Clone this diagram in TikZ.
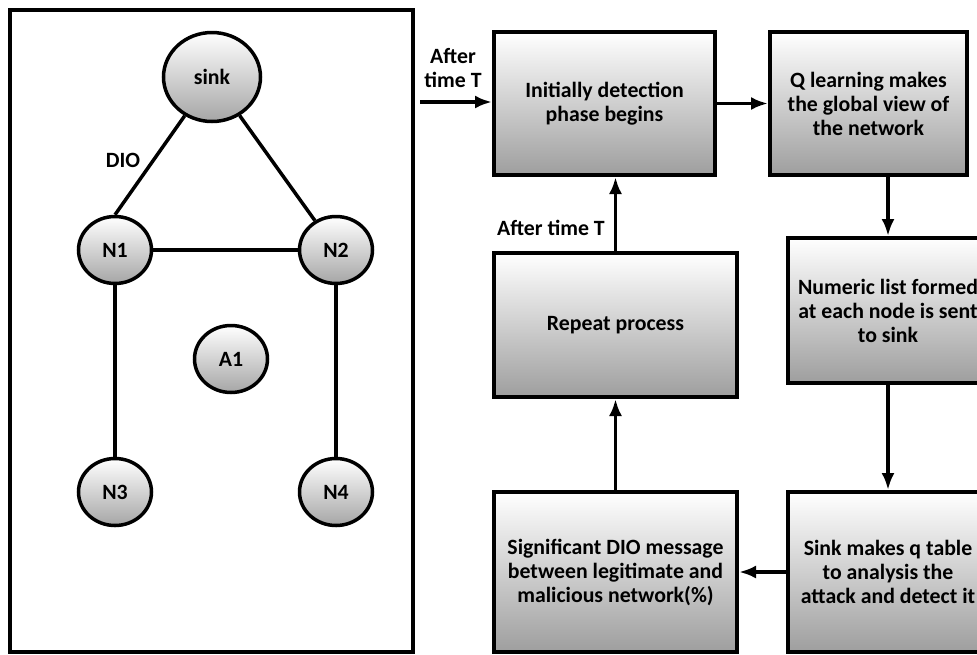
\documentclass[tikz,border=0pt]{standalone}
\usepackage{fontspec}
\setmainfont{Carlito}
\usetikzlibrary{shapes.geometric,arrows.meta}
\begin{document}
\begin{tikzpicture}[
    x=1pt, y=-1pt,
    every node/.style={font=\fontsize{21.8}{24}\selectfont\bfseries},
    % Network styles
    net-node/.style={ellipse, draw=black, line width=3.5pt, top color=white, bottom color=black!35, inner sep=0pt, minimum width=73pt, minimum height=67pt},
    link/.style={line width=3.5pt},
    % Flow chart styles
    proc-box/.style={rectangle, draw=black, line width=4pt, top color=white, bottom color=black!38, align=center, inner sep=4pt},
    flow/.style={-{Latex[length=17pt,width=13pt]}, line width=3.5pt},
]

\useasboundingbox (0,0) rectangle (977,654);
\clip (0,0) rectangle (977,654);

% === NETWORK (left frame) ===
\node[draw=black, line width=4pt, minimum width=403pt, minimum height=642pt] (frame) at (211.5, 331) {};

\node[net-node, minimum width=97pt, minimum height=89pt] (sink) at (212, 77) {sink};
\node[net-node] (n1) at (115, 250) {N1};
\node[net-node] (n2) at (336, 250) {N2};
\node[net-node] (a1) at (231, 359) {A1};
\node[net-node] (n3) at (115, 492) {N3};
\node[net-node] (n4) at (336, 492) {N4};

\draw[link] (sink) -- (n1.north) node[pos=0.45, left=8pt] (dio) {DIO};
\draw[link] (sink) -- (n2);
\draw[link] (n1) -- (n2);
\draw[link] (n1) -- (n3);
\draw[link] (n2) -- (n4);

% === DETECTION CYCLE (right) ===
\node[proc-box, minimum width=221pt, minimum height=143pt] (detect) at (604.5, 103.5) {Initially detection\\phase begins};
\node[proc-box, minimum width=197pt, minimum height=143pt] (qlearn) at (868.5, 103.5) {Q learning makes\\the global view of\\the network};
\node[proc-box, minimum width=200pt, minimum height=145pt] (numlist) at (888, 310.5) {Numeric list formed\\at each node is sent\\to sink};
\node[proc-box, minimum width=200pt, minimum height=160pt] (qtable) at (888, 572) {Sink makes q table\\to analysis the\\attack and detect it};
\node[proc-box, minimum width=243pt, minimum height=160pt] (signif) at (615.5, 572) {Significant DIO message\\between legitimate and\\malicious network(\%)};
\node[proc-box, minimum width=243pt, minimum height=144pt] (repeat) at (615.5, 325) {Repeat process};

% Input after time T
\coordinate (in) at (420, 102);
\node[align=center] (after1) at (453, 68) {After\\time T};
\draw[flow] (in) -- (in -| detect.west);

% Cycle arrows
\draw[flow] (detect) -- (qlearn);
\draw[flow] (numlist.north |- qlearn.south) -- (numlist.north);
\draw[flow] (numlist) -- (qtable);
\draw[flow] (qtable) -- (signif);
\draw[flow] (signif) -- (repeat);
\draw[flow] (repeat.north) -- (repeat.north |- detect.south);
\node (after2) at (551, 228) {After time T};

\end{tikzpicture}
\end{document}
